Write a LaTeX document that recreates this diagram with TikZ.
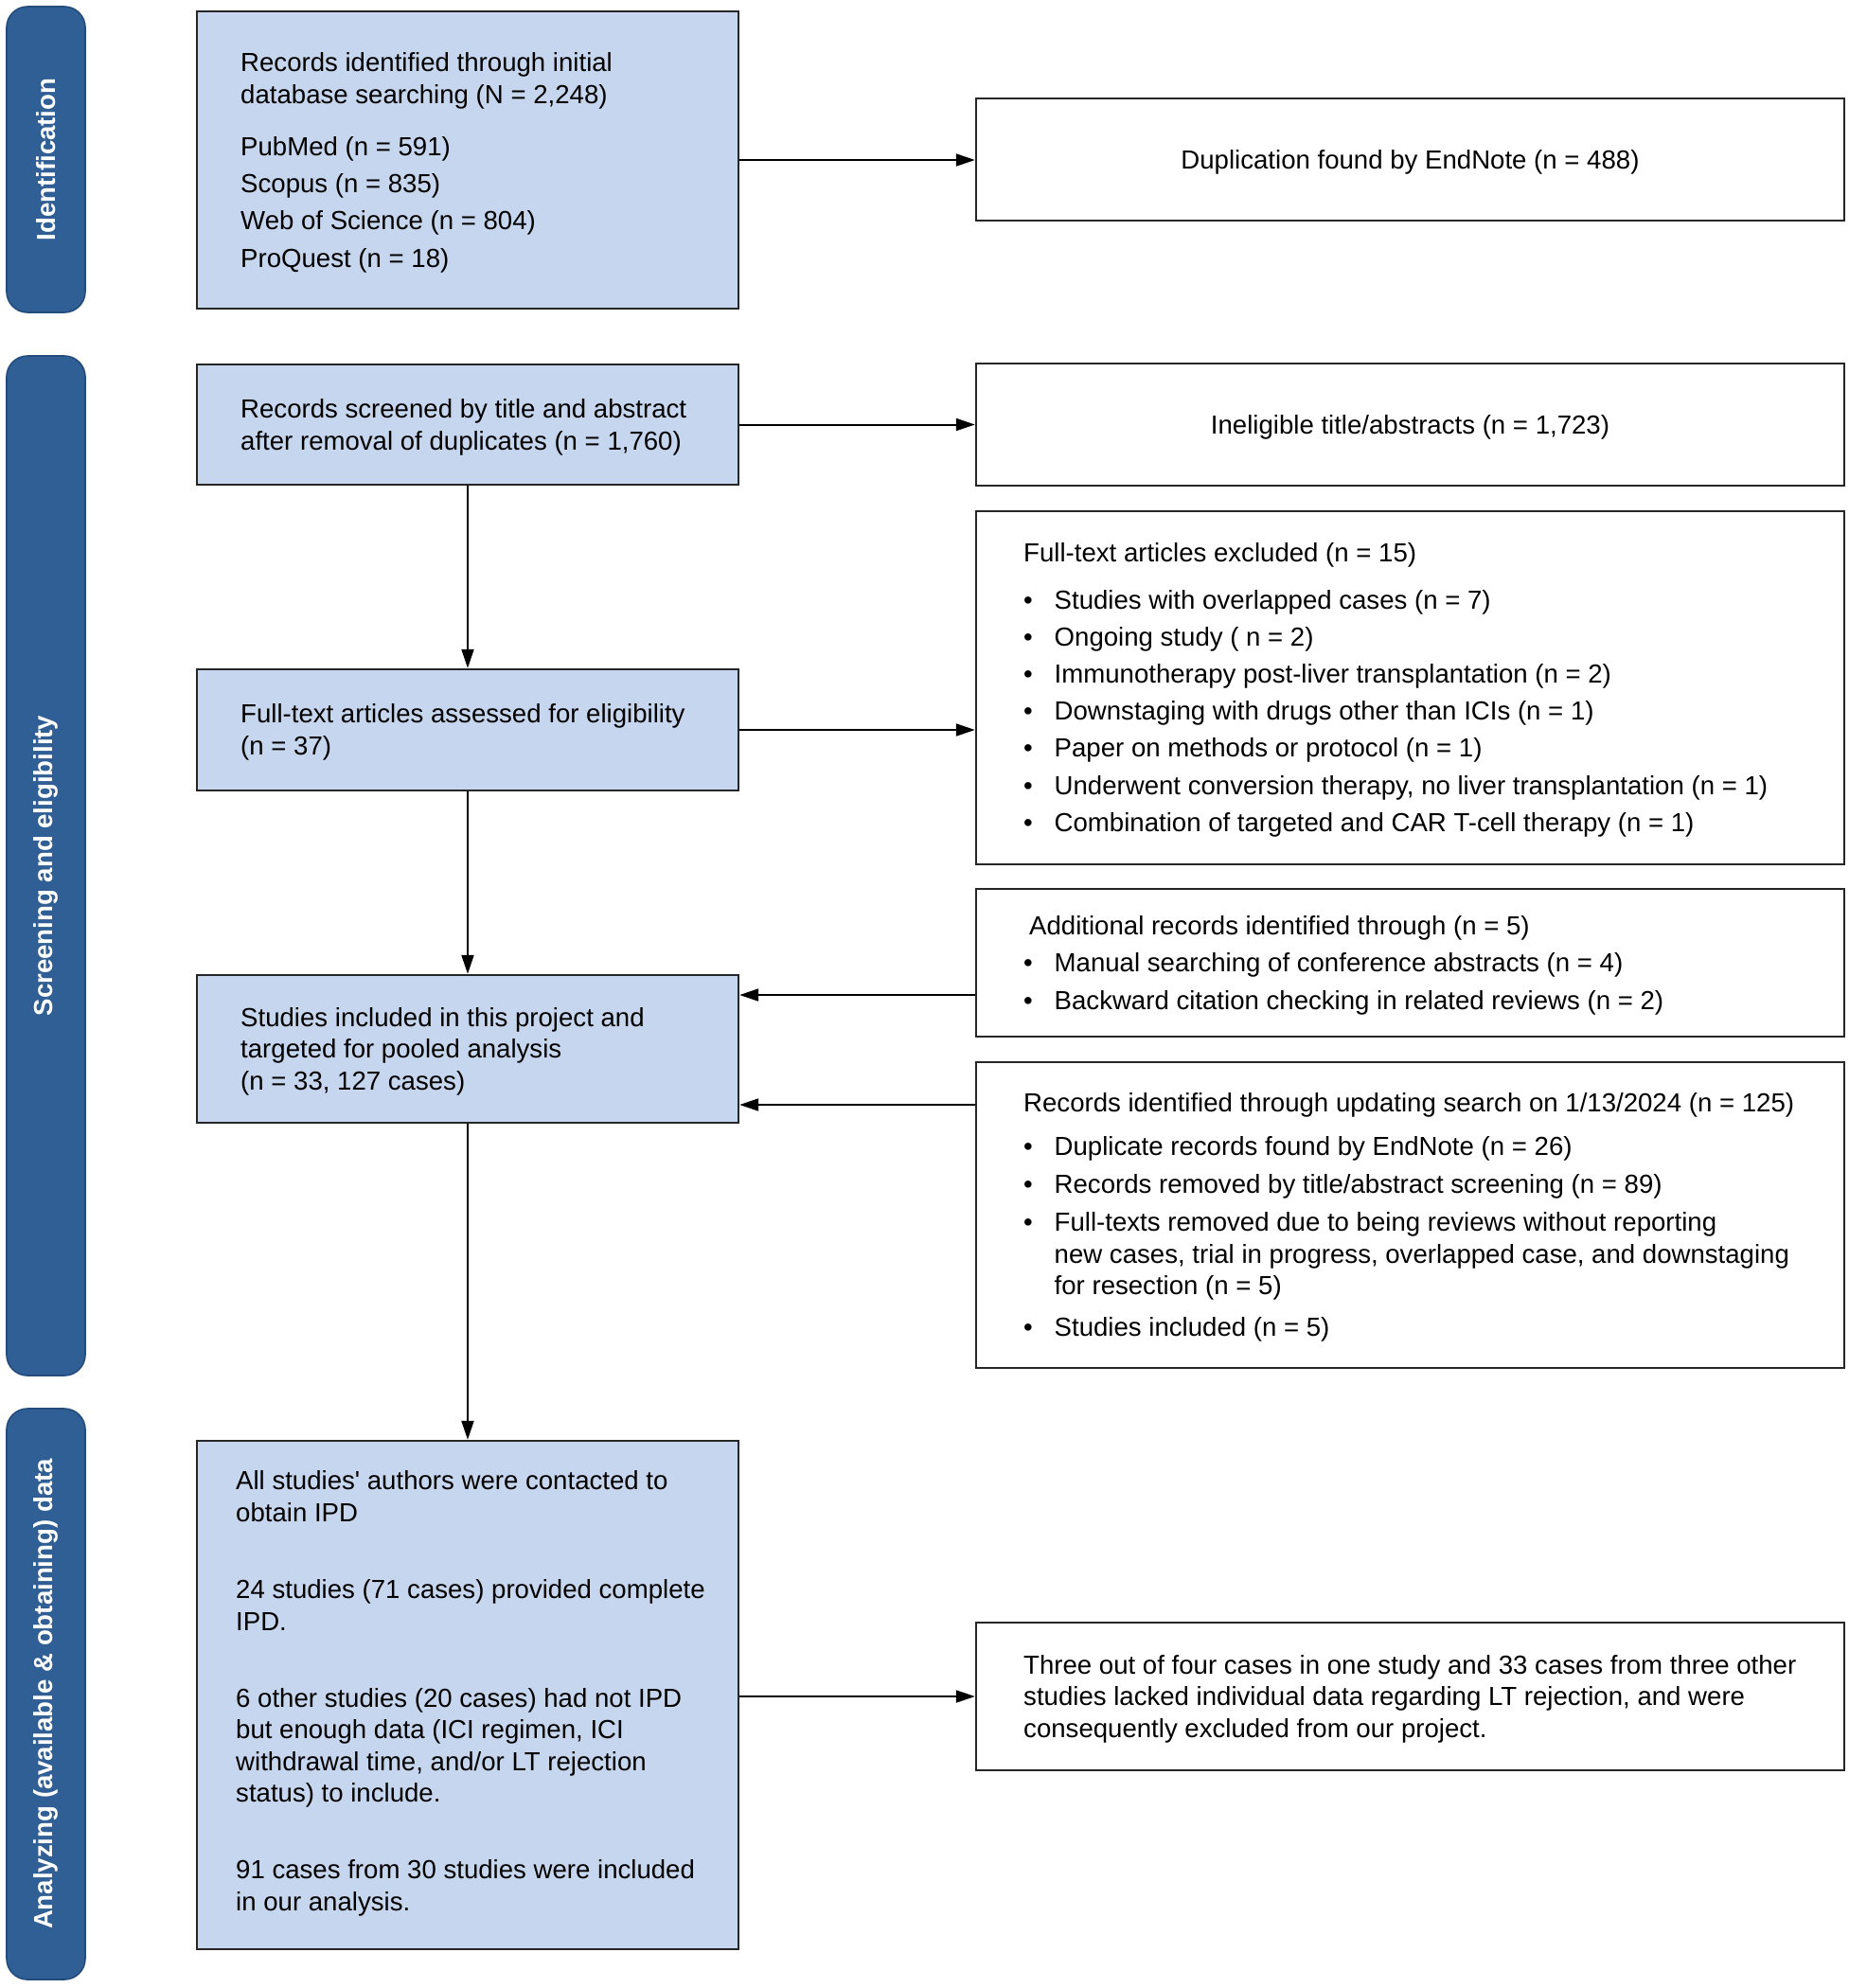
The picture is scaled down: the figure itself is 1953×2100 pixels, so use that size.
\documentclass[tikz,border=0pt]{standalone}
\usepackage{fontspec}
\setmainfont{Liberation Sans}
\usetikzlibrary{arrows.meta}
\definecolor{bandblue}{HTML}{2F5F94}
\definecolor{bandedge}{HTML}{234C7C}
\definecolor{boxblue}{HTML}{C6D6EE}
\newcommand{\mybul}{\makebox[16.25pt][l]{•}}
\newcommand{\myind}{\hspace*{16.25pt}}
\begin{document}
\begin{tikzpicture}[x=0.5pt,y=-0.5pt,
  band/.style={draw=bandedge, line width=0.8pt, fill=bandblue, rounded corners=11pt,
    text=white, font=\fontsize{13.8pt}{16pt}\selectfont\bfseries, inner sep=0pt, rotate=90},
  bluebox/.style={draw=black!85, line width=1.2pt, fill=boxblue, inner sep=0pt},
  whitebox/.style={draw=black!85, line width=1.2pt, fill=white, inner sep=0pt},
  txt/.style={align=left, inner sep=0pt, font=\fontsize{13.8pt}{16.8pt}\selectfont, anchor=west},
  ctxt/.style={align=center, inner sep=0pt, font=\fontsize{13.8pt}{16.8pt}\selectfont},
  arr/.style={-{Triangle[length=10pt,width=6.5pt]}, line width=1pt}
]
\useasboundingbox (0,0) rectangle (1953,2100);

% phase bands
\node[band, minimum width=161.5pt, minimum height=41.5pt] (bid) at (48.5,168.5) {Identification};
\node[band, minimum width=538.5pt, minimum height=41.5pt] (bsc) at (48.5,914.5) {Screening and eligibility};
\node[band, minimum width=301.5pt, minimum height=41.5pt] (ban) at (48.5,1789.5) {Analyzing (available \& obtaining) data};

% left column boxes
\node[bluebox, minimum width=286pt, minimum height=157pt] (A) at (494,169) {};
\node[bluebox, minimum width=286pt, minimum height=63.5pt] (B) at (494,448.5) {};
\node[bluebox, minimum width=286pt, minimum height=64pt] (C) at (494,771) {};
\node[bluebox, minimum width=286pt, minimum height=78pt] (D) at (494,1108) {};
\node[bluebox, minimum width=286pt, minimum height=268.5pt] (E) at (494,1790.5) {};

% right column boxes
\node[whitebox, minimum width=458.5pt, minimum height=64.5pt] (Dup) at (1489.5,168.5) {};
\node[whitebox, minimum width=458.5pt, minimum height=64.5pt] (Inel) at (1489.5,448.5) {};
\node[whitebox, minimum width=458.5pt, minimum height=186.5pt] (Excl) at (1489.5,726.5) {};
\node[whitebox, minimum width=458.5pt, minimum height=78pt] (Add) at (1489.5,1017) {};
\node[whitebox, minimum width=458.5pt, minimum height=161.5pt] (Upd) at (1489.5,1283.5) {};
\node[whitebox, minimum width=458.5pt, minimum height=78pt] (Three) at (1489.5,1792) {};

% texts
\node[txt] (tA) at ([xshift=23.5pt,yshift=-1.3pt]A.west) {Records identified through initial\\
database searching (N = 2,248)\\[10.7pt]
PubMed (n = 591)\\[2.85pt]
Scopus (n = 835)\\[2.85pt]
Web of Science (n = 804)\\[2.85pt]
ProQuest (n = 18)};

\node[txt] (tB) at ([xshift=23.5pt,yshift=-1.3pt]B.west) {Records screened by title and abstract\\
after removal of duplicates (n = 1,760)};

\node[txt] (tC) at ([xshift=23.5pt,yshift=-1.3pt]C.west) {Full-text articles assessed for eligibility\\
(n = 37)};

\node[txt] (tD) at ([xshift=23.5pt,yshift=-1.3pt]D.west) {Studies included in this project and\\
targeted for pooled analysis\\
(n = 33, 127 cases)};

\node[txt] (tE) at ([xshift=21pt,yshift=0.7pt]E.west) {All studies\textquotesingle\ authors were contacted to\\
obtain IPD\\[23.7pt]
24 studies (71 cases) provided complete\\
IPD.\\[23.7pt]
6 other studies (20 cases) had not IPD\\
but enough data (ICI regimen, ICI\\
withdrawal time, and/or LT rejection\\
status) to include.\\[23.7pt]
91 cases from 30 studies were included\\
in our analysis.};

\node[ctxt] (tDup) at ([yshift=-1.3pt]Dup.center) {Duplication found by EndNote (n = 488)};
\node[ctxt] (tInel) at ([yshift=-1.3pt]Inel.center) {Ineligible title/abstracts (n = 1,723)};

\node[txt] (tExcl) at ([xshift=25.5pt,yshift=-1pt]Excl.west) {Full-text articles excluded (n = 15)\\[8.2pt]
\mybul Studies with overlapped cases (n = 7)\\[2.8pt]
\mybul Ongoing study ( n = 2)\\[2.8pt]
\mybul Immunotherapy post-liver transplantation (n = 2)\\[2.8pt]
\mybul Downstaging with drugs other than ICIs (n = 1)\\[2.8pt]
\mybul Paper on methods or protocol (n = 1)\\[2.8pt]
\mybul Underwent conversion therapy, no liver transplantation (n = 1)\\[2.8pt]
\mybul Combination of targeted and CAR T-cell therapy (n = 1)};

\node[txt] (tAdd) at ([xshift=25.5pt,yshift=-1.3pt]Add.west) {\hspace*{3pt}Additional records identified through (n = 5)\\[3pt]
\mybul Manual searching of conference abstracts (n = 4)\\[3pt]
\mybul Backward citation checking in related reviews (n = 2)};

\node[txt] (tUpd) at ([xshift=25.5pt,yshift=-1.3pt]Upd.west) {Records identified through updating search on 1/13/2024 (n = 125)\\[6pt]
\mybul Duplicate records found by EndNote (n = 26)\\[3pt]
\mybul Records removed by title/abstract screening (n = 89)\\[3.5pt]
\mybul Full-texts removed due to being reviews without reporting\\
\myind new cases, trial in progress, overlapped case, and downstaging\\
\myind for resection (n = 5)\\[5pt]
\mybul Studies included (n = 5)};

\node[txt] (tThree) at ([xshift=25.5pt,yshift=-1.3pt]Three.west) {Three out of four cases in one study and 33 cases from three other\\
studies lacked individual data regarding LT rejection, and were\\
consequently excluded from our project.};

% connectors
\coordinate (ya) at (0,1051);
\coordinate (yu) at (0,1167);
\draw[arr] (A.east) -- (A.east -| Dup.west);
\draw[arr] (B.east) -- (B.east -| Inel.west);
\draw[arr] (C.east) -- (C.east -| Excl.west);
\draw[arr] (B.south) -- (C.north);
\draw[arr] (C.south) -- (D.north);
\draw[arr] (D.south) -- (E.north);
\draw[arr] (Add.west |- ya) -- (D.east |- ya);
\draw[arr] (Upd.west |- yu) -- (D.east |- yu);
\draw[arr] (E.east |- Three.west) -- (Three.west);
\end{tikzpicture}
\end{document}
